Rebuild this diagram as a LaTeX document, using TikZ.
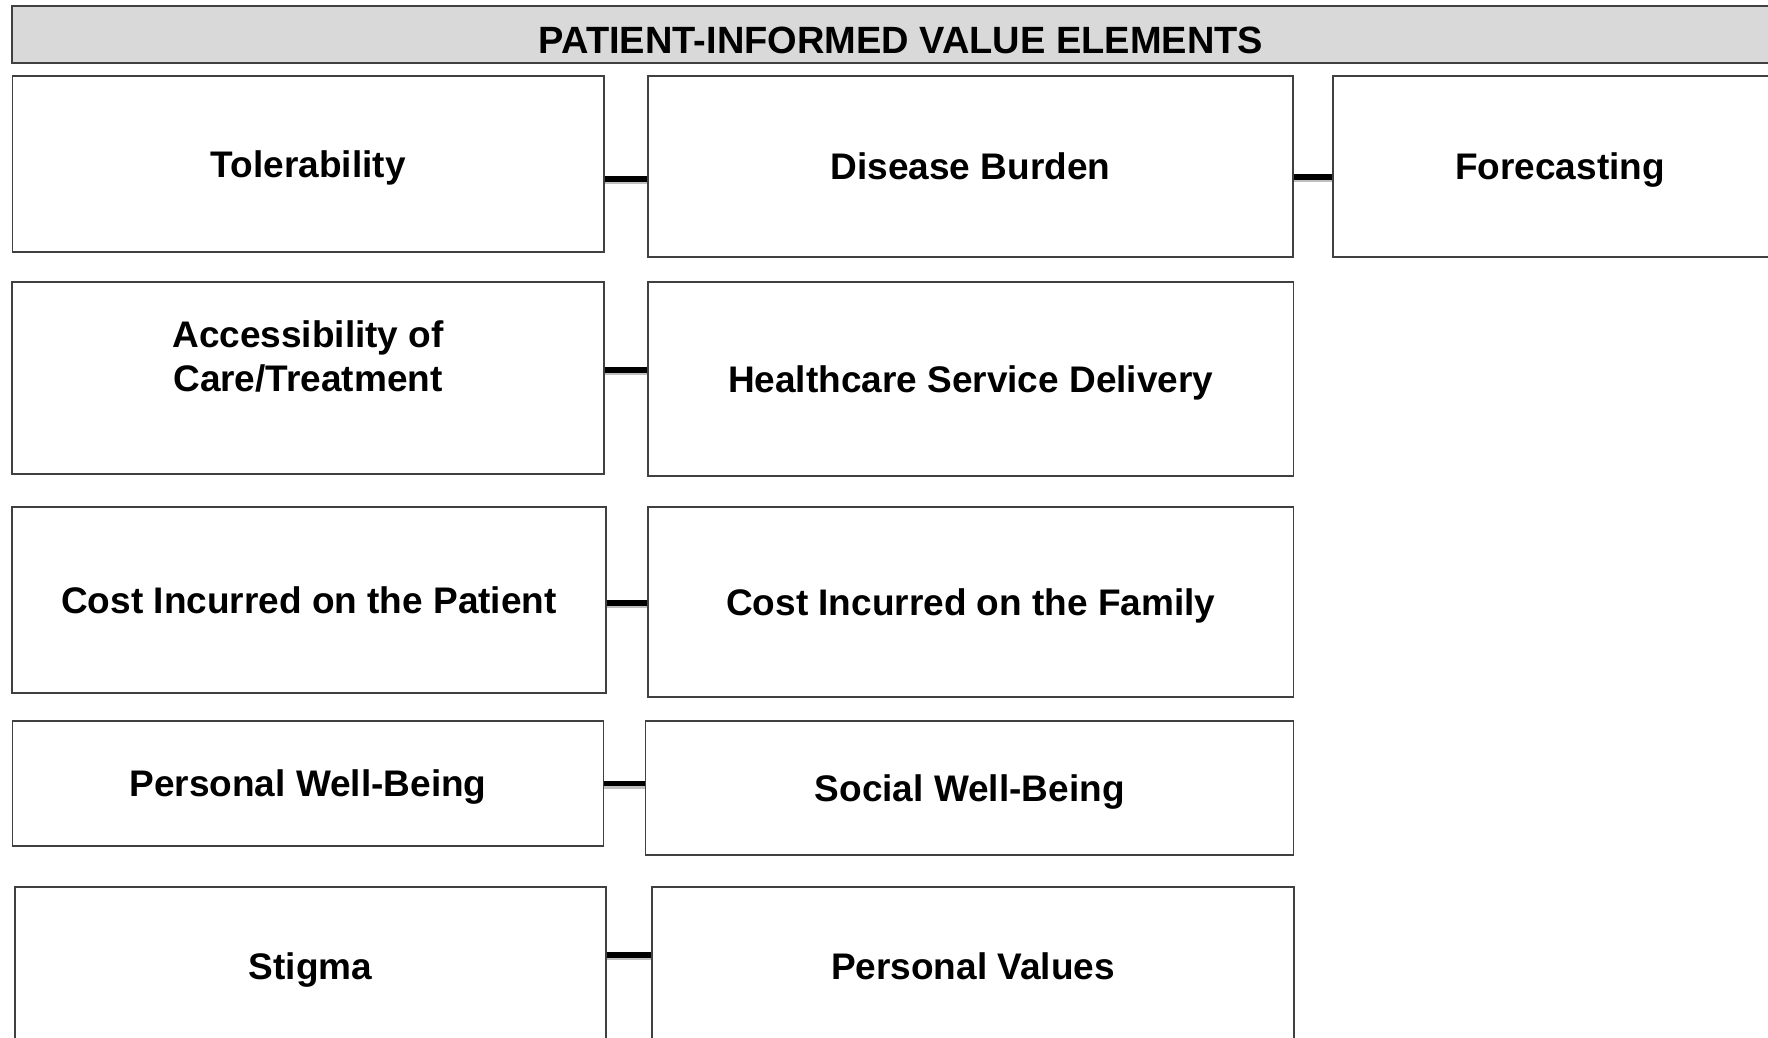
\documentclass[tikz,border=0pt]{standalone}
\usepackage{fontspec}
\setmainfont{Liberation Sans}
\usepackage{xcolor}
\usepackage{tikz}
\usetikzlibrary{calc}
\usetikzlibrary{positioning}
\definecolor{headfill}{HTML}{D9D9D9}
\definecolor{edgegray}{HTML}{404040}

\begin{document}
\begin{tikzpicture}[-,x=0.5pt,y=-0.5pt,semithick]
	\tikzstyle{every node}=[font=\fontsize{18.5}{22}\selectfont\bfseries]
	\tikzstyle{elem}=[draw=edgegray, line width=0.75pt, inner sep=0pt, align=center]
	\tikzstyle{oneline}=[text height=17pt, text depth=3.7pt]
	\tikzstyle{title}=[draw=edgegray, line width=0.75pt, fill=headfill, inner sep=0pt, font=\fontsize{19}{22}\selectfont\bfseries, text height=19pt, text depth=0pt]
	\tikzstyle{link}=[line width=2.6pt, black, preaction={draw=black!25, line width=2.6pt, transform canvas={yshift=-1.2pt}}]
	\useasboundingbox (0,0) rectangle (1768,1038);
	\clip (0,0) rectangle (1768,1038);
			\node[title, minimum width=889pt, minimum height=28.5pt] (head) at (901,34.5) {PATIENT-INFORMED VALUE ELEMENTS};
			\node[elem, oneline, minimum width=295.75pt, minimum height=88pt] (tol) at (308.25,164) {Tolerability};
			\node[elem, oneline, minimum width=322.5pt, minimum height=90.5pt] (dis) at (970.5,166.5) {Disease Burden};
			\node[elem, oneline, minimum width=227pt, minimum height=90.5pt] (fore) at (1560,166.5) {Forecasting};
			\node[elem, minimum width=296pt, minimum height=96pt] (acc) at (308,378) {Accessibility of\\Care/Treatment\\\mbox{}};
			\node[elem, oneline, minimum width=322.75pt, minimum height=97pt] (hsd) at (970.75,379) {Healthcare Service Delivery};
			\node[elem, oneline, minimum width=297pt, minimum height=93pt] (cip) at (309,600) {Cost Incurred on the Patient};
			\node[elem, oneline, minimum width=322.75pt, minimum height=95pt] (cif) at (970.75,602) {Cost Incurred on the Family};
			\node[elem, oneline, minimum width=295.5pt, minimum height=62.5pt] (pwb) at (308,783.5) {Personal Well-Being};
			\node[elem, oneline, minimum width=324pt, minimum height=67pt] (swb) at (969.7,788) {Social Well-Being};
			\node[elem, oneline, minimum width=295.5pt, minimum height=79pt] (stg) at (310.5,966) {Stigma};
			\node[elem, oneline, minimum width=321pt, minimum height=79pt] (pvl) at (973,966) {Personal Values};
		 	\draw[link] ([yshift=-7.5pt]tol.east) -- ([yshift=-7.5pt]tol.east -| dis.west);
		 	\draw[link] ([yshift=-5.25pt]dis.east) -- ([yshift=-5.25pt]dis.east -| fore.west);
		 	\draw[link] ([yshift=4pt]acc.east) -- ([yshift=4pt]acc.east -| hsd.west);
		 	\draw[link] ([yshift=-1.5pt]cip.east) -- ([yshift=-1.5pt]cip.east -| cif.west);
		 	\draw[link] (pwb.east) -- (pwb.east -| swb.west);
		 	\draw[link] ([yshift=5.5pt]stg.east) -- ([yshift=5.5pt]stg.east -| pvl.west);
\end{tikzpicture}
\end{document}
